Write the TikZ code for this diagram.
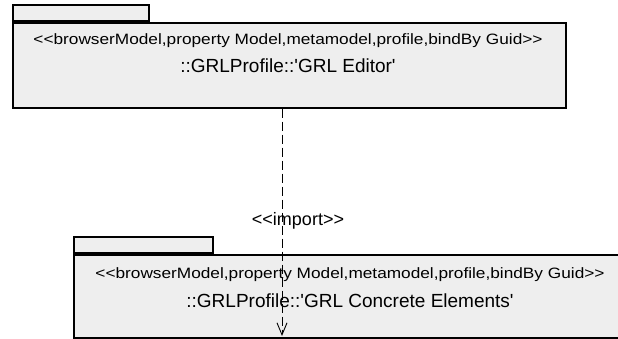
\documentclass[tikz,border=0pt]{standalone}
\usepackage{fontspec}
\setmainfont{Liberation Sans}
\newfontfamily\stereofont[FakeStretch=1.15]{Liberation Sans}
\usetikzlibrary{arrows.meta}
\begin{document}
\begin{tikzpicture}[x=1pt,y=-1pt,
  pkg/.style={draw=black, line width=1.7pt, fill=gray!13, inner sep=0pt},
  ster/.style={anchor=base, font=\stereofont\fontsize{15}{18}\selectfont, inner sep=0pt},
  pname/.style={anchor=base, font=\fontsize{19}{22}\selectfont, inner sep=0pt},
  lbl/.style={anchor=base, font=\fontsize{18}{21}\selectfont, inner sep=0pt},
  dep/.style={line width=0.7pt, dash pattern=on 9pt off 4pt,
    -{Straight Barb[length=12pt,width=10pt,line width=0.9pt]}}]
\useasboundingbox (0,0) rectangle (618,339);
\fill[white] (0,0) rectangle (618,339);
\begin{scope}
\clip (0,0) rectangle (618,339);
% upper package
\node[pkg, anchor=south west, minimum width=136pt, minimum height=16pt] (toptab) at (12,22) {};
\node[pkg, anchor=north west, minimum width=553pt, minimum height=85pt] (topbody) at (12,22) {};
\node[ster] (topster) at (288,45) {<{}<browserModel,property Model,metamodel,profile,bindBy Guid>{}>};
\node[pname] (topname) at (288,73) {::GRLProfile::\textquotesingle GRL Editor\textquotesingle};
% lower package
\node[pkg, anchor=south west, minimum width=139pt, minimum height=16pt] (lowtab) at (73,254) {};
\node[pkg, anchor=north west, minimum width=554pt, minimum height=83pt] (lowbody) at (73,254) {};
\node[ster] (lowster) at (350,278) {<{}<browserModel,property Model,metamodel,profile,bindBy Guid>{}>};
\node[pname] (lowname) at (350,307) {::GRLProfile::\textquotesingle GRL Concrete Elements\textquotesingle};
% dependency
\coordinate (depstart) at (topbody.south -| 282,0);
\coordinate (depend) at (282,336);
\draw[dep] (depstart) -- (depend);
\node[lbl] (imp) at (298,225) {<{}<import>{}>};
\end{scope}
\end{tikzpicture}
\end{document}
